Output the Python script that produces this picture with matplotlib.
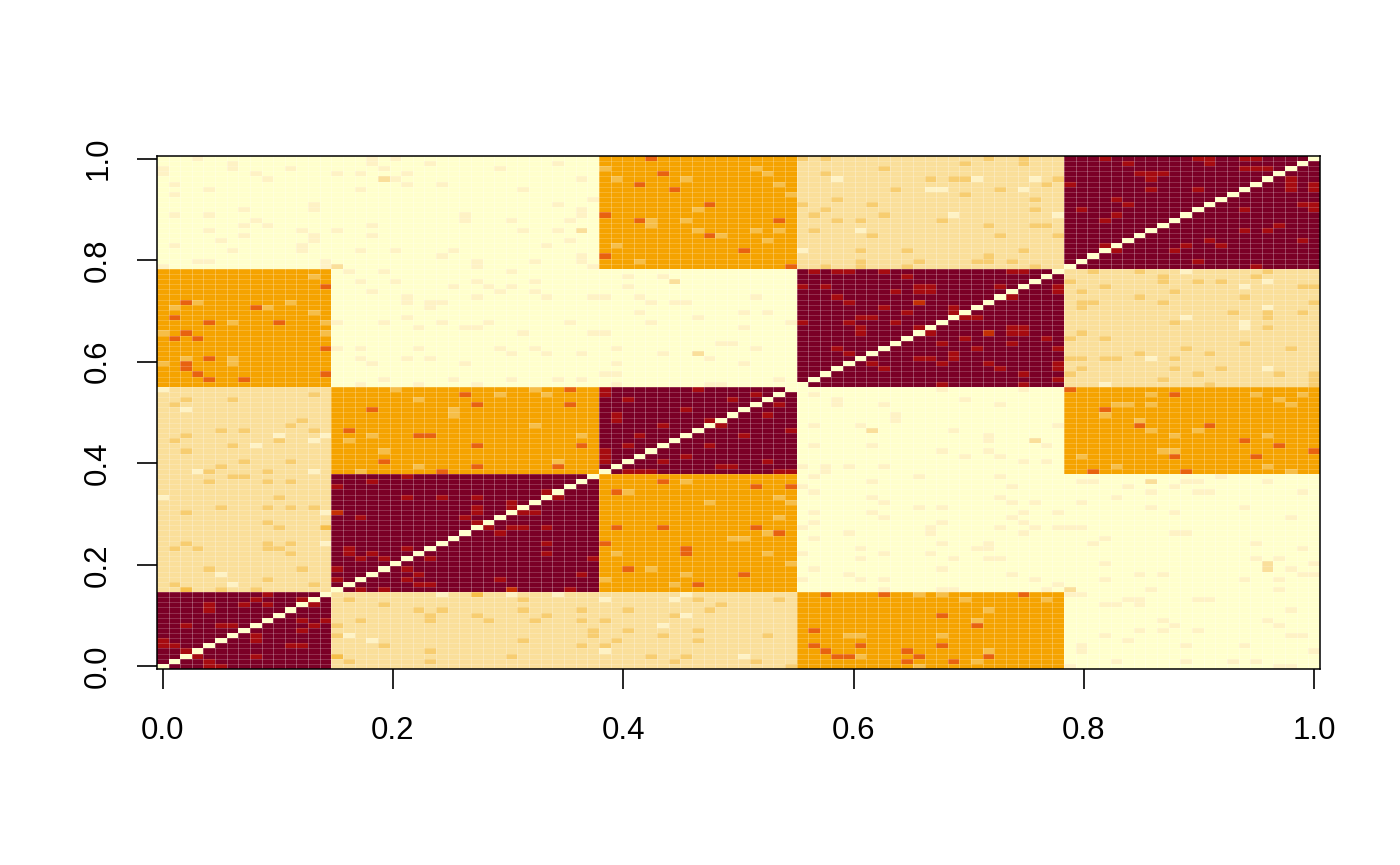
import numpy as np
import matplotlib
matplotlib.use("Agg")
import matplotlib.pyplot as plt
from matplotlib.colors import ListedColormap

# --- matrix layout: 100 x 100, five clusters ---
n = 100
block_sizes = [15, 23, 17, 23, 22]
# level of each block (0 pale, 2 tan, 5 orange, 9 dark red)
block_levels = [
    [9, 2, 2, 5, 0],
    [2, 9, 5, 0, 0],
    [2, 5, 9, 0, 5],
    [5, 0, 0, 9, 2],
    [0, 0, 5, 2, 9],
]

# colour for each level
level_colors = ["#FFFFCC", "#FEF2C4", "#FADF9A", "#F7CD70", "#F6BE48",
                "#F5A300", "#E8620F", "#C43003", "#A60B10", "#7B0026"]

# single cells that differ from their block, (row, col)
pale_spots = [
    (5, 18), (14, 24), (14, 30), (6, 16), (45, 10), (45, 14), (44, 13), (43, 8), (38, 3), (38, 13),
    (33, 0), (30, 14), (24, 14), (18, 5), (16, 6), (13, 38), (13, 44), (14, 45), (10, 45), (8, 43),
    (3, 38), (2, 50), (14, 34),
    (47, 56), (47, 60), (48, 63), (49, 63), (43, 56), (43, 61), (39, 55), (38, 57), (39, 57), (39, 59),
    (39, 62), (37, 56), (37, 65), (35, 55), (36, 61), (34, 56), (33, 61), (32, 62), (31, 65), (29, 62),
    (30, 56), (30, 61), (28, 56), (27, 55), (26, 66), (27, 66), (26, 59), (25, 56), (23, 60), (22, 55),
    (22, 62), (22, 66), (21, 60), (19, 56), (18, 59), (17, 55), (17, 60), (17, 62), (15, 62),
    (46, 68), (47, 77), (44, 71), (45, 71), (43, 76), (42, 67), (42, 71), (41, 69), (41, 72), (40, 74),
    (40, 76), (37, 72), (35, 73), (33, 72), (32, 73), (32, 75), (31, 67), (30, 74), (30, 77), (29, 73),
    (28, 67), (28, 74), (27, 72), (27, 75), (26, 74), (27, 77), (27, 78), (27, 79), (24, 67), (23, 71),
    (24, 71), (23, 70), (21, 68), (21, 71), (21, 72), (19, 67), (18, 73), (17, 75), (16, 77), (15, 76),
    (15, 67), (15, 68), (36, 79), (36, 80), (35, 83), (35, 87), (34, 85), (34, 89), (34, 90), (37, 91),
    (36, 88), (36, 89), (36, 95), (34, 98), (33, 82), (32, 79), (31, 85), (31, 93), (30, 87), (29, 97),
    (26, 87), (26, 88), (25, 81), (24, 80), (24, 94), (23, 98), (21, 94), (21, 96), (20, 81), (19, 97),
    (20, 99), (18, 98), (18, 99), (18, 84), (18, 86), (17, 81), (17, 93), (17, 96), (15, 85), (15, 96),
    (14, 78), (14, 79), (12, 81), (12, 82), (13, 83), (13, 84), (13, 89), (13, 90), (12, 84), (11, 97),
    (9, 86), (9, 95), (8, 87), (8, 96), (7, 84), (7, 86), (7, 89), (6, 97), (6, 98), (6, 81), (5, 83),
    (3, 79), (4, 79), (4, 88), (4, 93), (3, 99), (1, 82), (1, 88), (1, 92), (1, 94), (0, 96), (0, 97),
    (0, 78),
    (95, 70), (95, 75), (93, 67), (93, 74), (88, 68), (88, 77), (77, 88), (75, 95), (74, 93), (70, 95),
    (68, 88), (66, 93), (67, 93), (60, 85), (58, 95), (55, 81), (54, 67), (52, 69), (51, 72), (54, 74),
    (95, 58), (93, 66), (85, 60), (81, 55),
    (98, 34), (95, 36), (91, 37), (90, 34), (88, 36), (89, 36), (87, 35), (85, 34), (83, 35), (82, 33),
    (79, 36), (80, 36), (78, 37), (72, 33), (72, 37), (67, 35), (65, 37), (61, 36), (61, 33), (56, 36),
    (56, 34), (76, 40), (76, 43), (74, 40), (72, 38), (72, 41), (71, 42), (71, 44), (71, 45), (72, 51),
    (69, 41), (69, 50), (69, 52), (68, 46), (67, 42), (67, 54), (66, 50), (65, 38), (63, 48), (63, 49),
    (62, 39), (62, 51), (61, 43), (60, 47), (59, 50), (59, 39), (57, 38), (57, 39), (55, 39), (55, 47),
    (55, 48), (56, 53), (53, 56), (51, 58), (52, 58), (51, 62),
    (99, 3), (97, 6), (98, 6), (96, 0), (97, 0), (96, 8), (97, 11), (95, 9), (94, 1), (93, 4), (92, 1),
    (89, 13), (90, 13), (89, 7), (88, 1), (88, 4), (87, 8), (86, 7), (86, 9), (85, 4), (85, 12), (84, 7),
    (83, 13), (84, 13), (83, 5), (82, 1), (81, 12), (82, 12), (81, 6), (79, 3), (79, 4), (78, 14),
    (79, 14), (78, 0), (96, 15), (96, 17), (98, 18), (99, 18), (97, 19), (99, 20), (95, 20), (96, 21),
    (94, 21), (98, 23), (94, 24), (93, 17), (97, 29), (93, 31), (87, 26), (88, 26), (87, 30), (86, 18),
    (85, 15), (84, 18), (85, 31), (81, 17), (81, 20), (81, 25), (80, 24), (78, 27), (79, 27), (79, 32),
    (77, 16), (77, 19), (77, 30), (75, 17), (75, 20), (75, 27), (75, 32), (74, 25), (74, 28), (74, 30),
    (73, 18), (73, 29), (73, 32), (71, 21), (72, 21), (72, 27), (71, 23), (71, 24), (70, 23), (68, 21),
    (67, 15), (67, 19), (67, 24), (67, 28), (66, 22), (66, 26), (66, 27), (65, 31), (62, 15), (62, 17),
    (62, 22), (62, 29), (62, 32), (61, 30), (60, 17), (60, 21), (60, 23), (59, 18), (59, 26), (56, 19),
    (56, 25), (56, 30), (55, 17), (55, 22), (55, 27), (54, 0), (50, 2),
]
tan_spots = [
    (46, 61), (44, 75), (36, 85), (19, 95), (20, 95), (15, 78), (85, 36), (75, 44), (61, 46),
    (95, 19), (78, 15),
]
dark_tan_spots = [
    (1, 16), (4, 19), (3, 23), (1, 23), (2, 30), (13, 16), (9, 17), (12, 19), (11, 22), (9, 23),
    (10, 23), (11, 24), (10, 27), (9, 28), (13, 31), (11, 31), (5, 31), (9, 32), (8, 15), (6, 15),
    (48, 12), (47, 11), (46, 5), (46, 7), (46, 13), (45, 2), (44, 1), (44, 10), (43, 6), (42, 2),
    (40, 7), (40, 11), (39, 5), (38, 4), (38, 9), (37, 6), (37, 7), (36, 4), (36, 9), (36, 11),
    (33, 10), (31, 5), (31, 9), (31, 11), (31, 13), (30, 2), (28, 9), (27, 10), (24, 2), (24, 9),
    (24, 11), (23, 1), (23, 3), (23, 9), (23, 10), (22, 11), (19, 4), (19, 12), (17, 9), (16, 1),
    (16, 13), (15, 5), (15, 8),
    (13, 46), (12, 48), (13, 53), (11, 36), (11, 40), (11, 47), (10, 33), (10, 44), (9, 36), (9, 38),
    (6, 37), (7, 37), (7, 40), (7, 46), (6, 43), (6, 52), (5, 39), (5, 46), (4, 36), (4, 38), (2, 42),
    (2, 45), (1, 44), (1, 51), (0, 54),
    (99, 71), (98, 74), (99, 74), (98, 69), (95, 68), (95, 69), (95, 77), (94, 76), (93, 72), (92, 69),
    (91, 75), (89, 75), (87, 67), (86, 71), (86, 75), (86, 76), (84, 72), (84, 77), (81, 74), (79, 71),
    (80, 71), (79, 70), (79, 73), (78, 75),
    (77, 80), (77, 84), (77, 95), (75, 86), (76, 86), (76, 94), (75, 78), (74, 81), (75, 89), (75, 91),
    (74, 98), (74, 99), (73, 79), (73, 87), (72, 84), (72, 93), (71, 79), (71, 80), (71, 86), (71, 99),
    (70, 79), (69, 92), (69, 98), (68, 95), (69, 95), (67, 87), (66, 95), (65, 79), (64, 78), (64, 81),
    (63, 93), (62, 88), (62, 97), (61, 84), (61, 90), (60, 78), (60, 79), (60, 81), (60, 82), (60, 87),
    (58, 79), (58, 87), (58, 91), (57, 78), (57, 89), (57, 96), (55, 99), (56, 99), (57, 99), (56, 86),
    (55, 90),
    (99, 55), (99, 57), (97, 62), (96, 57), (95, 66), (93, 63), (91, 58), (90, 55), (90, 61), (89, 57),
    (88, 56), (88, 62), (87, 58), (87, 60), (85, 56), (84, 61), (81, 60), (81, 64), (79, 65), (78, 60),
    (79, 60), (78, 57), (78, 64),
    (52, 2), (52, 6), (51, 1), (53, 13),
]
light_orange_spots = [
    (2, 15), (14, 27), (27, 14), (15, 2),
    (44, 16), (45, 18), (42, 19), (39, 22), (38, 17), (47, 32), (49, 25), (45, 36), (40, 34),
    (36, 45), (34, 40), (32, 47), (33, 53), (32, 54), (29, 53), (26, 52), (25, 49), (25, 50), (22, 39),
    (22, 52), (20, 54), (19, 42), (18, 45), (17, 38), (16, 44),
    (14, 65), (6, 59), (6, 60), (0, 65), (2, 60),
    (48, 84), (46, 85), (46, 89), (45, 87), (45, 95), (42, 86), (42, 87), (41, 79), (39, 82), (39, 95),
    (38, 97), (49, 81), (14, 67), (13, 69), (13, 76), (11, 71), (9, 70), (6, 67), (3, 71), (1, 70),
    (53, 85), (51, 82), (51, 83), (53, 94), (53, 98), (52, 96), (51, 97), (51, 85),
    (97, 38), (95, 39), (95, 45), (97, 51), (96, 52), (94, 53), (92, 54), (89, 46), (86, 42), (87, 42),
    (87, 45), (85, 46), (84, 48), (85, 51), (85, 53), (82, 39), (83, 52), (79, 41), (53, 33),
    (76, 13), (71, 3), (71, 11), (70, 1), (70, 9), (69, 13), (67, 6), (67, 14), (65, 0), (65, 14),
    (60, 2), (59, 6), (60, 6), (59, 0), (54, 20), (53, 29), (52, 22), (50, 25), (54, 32),
]
dark_orange_spots = [
    (46, 16), (45, 22), (45, 23), (43, 27), (40, 19), (39, 27), (38, 24), (43, 36), (39, 34),
    (36, 43), (35, 51), (35, 54), (34, 39), (27, 39), (27, 43), (27, 51), (26, 53), (24, 38), (22, 45),
    (23, 45), (19, 40), (18, 50), (16, 46),
    (14, 57), (14, 62), (7, 56), (4, 56), (4, 60), (3, 57), (2, 58), (2, 59), (3, 64), (2, 65), (1, 64),
    (47, 84), (47, 90), (44, 93), (43, 96), (42, 99), (41, 87), (41, 94), (38, 80), (38, 88),
    (14, 74), (10, 67), (8, 70), (4, 67), (2, 71), (1, 68), (54, 78), (53, 87), (50, 81),
    (99, 42), (96, 43), (94, 41), (93, 44), (90, 47), (88, 38), (87, 41), (87, 53), (84, 47), (81, 50),
    (80, 38), (78, 54), (54, 35), (51, 35),
    (74, 14), (71, 2), (70, 8), (68, 1), (67, 4), (67, 10), (65, 2), (64, 1), (64, 3), (62, 14),
    (60, 4), (58, 2), (59, 2), (57, 3), (56, 4), (56, 7), (57, 14), (53, 26), (51, 27), (50, 18),
]
red_orange_spots = [(30, 15), (15, 30), (65, 71), (71, 65)]
red_spots = [
    (11, 4), (12, 4), (12, 7), (14, 9), (13, 8), (13, 12), (12, 9), (12, 13), (9, 12), (8, 13),
    (9, 14), (7, 12), (8, 2), (8, 5), (8, 6), (5, 8), (6, 8), (4, 0), (5, 0), (4, 1), (4, 11),
    (4, 12), (3, 2), (2, 3), (2, 8), (0, 4), (1, 4), (0, 5),
    (37, 21), (36, 18), (35, 15), (33, 21), (33, 24), (33, 27), (31, 30), (32, 30), (30, 27), (31, 27),
    (30, 31), (30, 32), (29, 17), (29, 26), (28, 27), (27, 28), (27, 30), (27, 31), (26, 29), (22, 16),
    (23, 16), (23, 21), (21, 17), (21, 19), (21, 23), (22, 18), (19, 15), (19, 21), (18, 22), (17, 21),
    (17, 15), (16, 22), (16, 23), (17, 29), (15, 17), (15, 19), (27, 33), (22, 33), (34, 33), (33, 34),
    (24, 33), (21, 37), (18, 36), (15, 35),
    (48, 39), (49, 39), (47, 43), (45, 41), (43, 40), (48, 47), (47, 48), (43, 47), (45, 50), (49, 52),
    (46, 54), (40, 38), (41, 38), (42, 38), (40, 43), (41, 45), (40, 52), (39, 48), (39, 49), (38, 40),
    (38, 41), (38, 42), (38, 53), (38, 54), (53, 38), (54, 38), (52, 40), (54, 46), (52, 49), (53, 51),
    (51, 53), (50, 45),
    (99, 89), (98, 90), (99, 90), (99, 93), (99, 94), (99, 81), (98, 83), (96, 84), (96, 85), (96, 86),
    (97, 93), (97, 94), (97, 95), (95, 85), (93, 97), (94, 97), (95, 97), (93, 99), (94, 99), (94, 78),
    (93, 85), (93, 89), (91, 82), (90, 83), (90, 98), (90, 99), (89, 99), (89, 79), (89, 93), (88, 82),
    (87, 81), (86, 96), (85, 93), (85, 95), (83, 90), (83, 98), (82, 81), (82, 88), (82, 91), (81, 82),
    (81, 87), (79, 89), (78, 94),
    (77, 73), (77, 74), (73, 77), (74, 77), (74, 72), (72, 73), (69, 68), (70, 68), (68, 69), (68, 70),
    (65, 73), (66, 73), (65, 74), (66, 74), (64, 69), (64, 76), (63, 67), (63, 73), (62, 70), (62, 77),
    (60, 68), (61, 68), (59, 67), (59, 71), (58, 77), (59, 77), (58, 72), (57, 74), (56, 77), (55, 67),
    (55, 74),
    (77, 56), (77, 58), (77, 59), (77, 62), (76, 64), (74, 55), (74, 57), (73, 65), (74, 65), (73, 66),
    (74, 66), (73, 63), (72, 58), (71, 59), (70, 62), (69, 64), (68, 60), (68, 61), (67, 55), (67, 59),
    (67, 63), (65, 60), (66, 60), (66, 65), (65, 66), (62, 58), (61, 59), (60, 65), (60, 66), (59, 61),
    (58, 62),
]

tick_values = [0.0, 0.2, 0.4, 0.6, 0.8, 1.0]
tick_labels = ["0.0", "0.2", "0.4", "0.6", "0.8", "1.0"]

# --- build the matrix ---
M = np.zeros((n, n), dtype=int)
starts = np.cumsum([0] + block_sizes)
for a in range(len(block_sizes)):
    for b in range(len(block_sizes)):
        M[starts[a]:starts[a + 1], starts[b]:starts[b + 1]] = block_levels[a][b]

spot_levels = [(1, pale_spots), (2, tan_spots), (3, dark_tan_spots), (4, light_orange_spots),
               (6, dark_orange_spots), (7, red_orange_spots), (8, red_spots)]
for level, spots in spot_levels:
    for i, j in spots:
        M[i, j] = level
np.fill_diagonal(M, 0)

# cell edges like R's image(): centres at seq(0, 1, length = n)
half = 0.5 / (n - 1)
edges = np.linspace(-half, 1 + half, n + 1)

plt.rcParams["font.family"] = ["Liberation Sans", "DejaVu Sans"]
fig = plt.figure(figsize=(14, 8.65), dpi=100)
ax = fig.add_axes([0.1121, 0.2266, 0.8307, 0.5931])

cmap = ListedColormap(level_colors)
ax.pcolormesh(edges, edges, M, cmap=cmap, vmin=-0.5, vmax=9.5, antialiased=False)

# faint seams between cells
ax.vlines(edges[1:-1], edges[0], edges[-1], colors="white", alpha=0.28, lw=0.7)
ax.hlines(edges[1:-1], edges[0], edges[-1], colors="white", alpha=0.22, lw=0.6)

ax.set_xlim(edges[0], edges[-1])
ax.set_ylim(edges[0], edges[-1])

ax.set_xticks(tick_values)
ax.set_xticklabels(tick_labels, fontsize=22.5)
ax.set_yticks(tick_values)
ax.set_yticklabels(tick_labels, fontsize=22.5, rotation=90, va="center")
ax.tick_params(axis="both", direction="out", length=14.5, width=1.2, color="black")
ax.tick_params(axis="x", pad=19)
ax.tick_params(axis="y", pad=17)
for s in ax.spines.values():
    s.set_linewidth(1.1)
    s.set_color("black")

fig.savefig("out.png", dpi=100)
